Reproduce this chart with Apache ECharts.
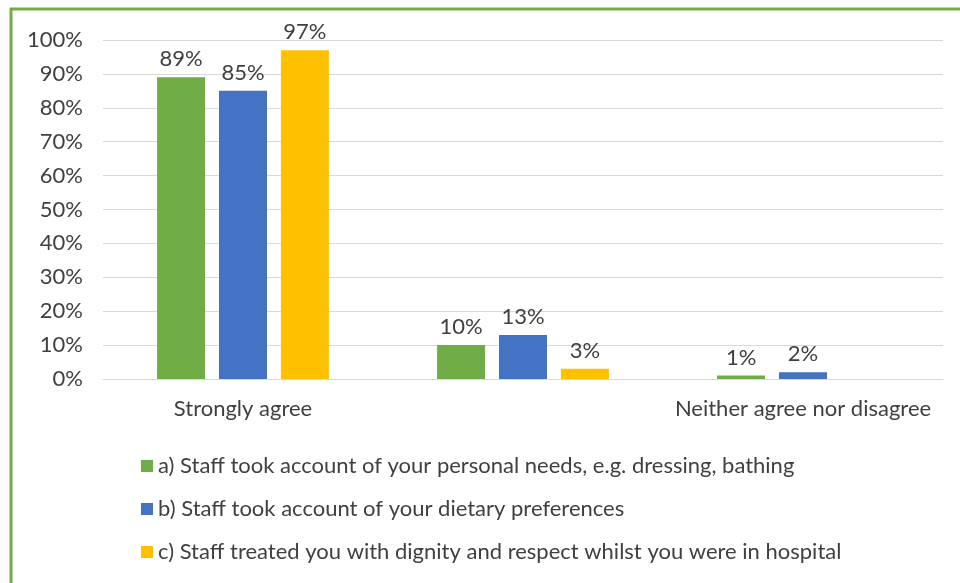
<!DOCTYPE html>
<html><head><meta charset="utf-8">
<script src="https://cdn.jsdelivr.net/npm/echarts@6/dist/echarts.min.js"></script>
<style>html,body{margin:0;padding:0;background:#fff}#c{width:960px;height:583px}</style>
</head><body><div id="c"></div>
<script>
const categories = ['Strongly agree', 'Agree', 'Neither agree nor disagree'];
const seriesNames = [
  'a) Staff took account of your personal needs, e.g. dressing, bathing',
  'b) Staff took account of your dietary preferences',
  'c) Staff treated you with dignity and respect whilst you were in hospital'
];
const valuesA = [89, 10, 1];
const valuesB = [85, 13, 2];
const valuesC = [97, 3, null];
const colors = ['#70AD47', '#4472C4', '#FFC000'];
const FONT = 'Lato';
const FS = 22;

const chart = echarts.init(document.getElementById('c'));
const mk = (name, data, color) => ({
  name, type: 'bar', data,
  barWidth: 48, barGap: '29%',
  itemStyle: { color },
  label: { show: true, position: 'top', distance: 7, color: '#404040', fontSize: FS, fontFamily: FONT,
    formatter: p => p.value == null ? '' : Math.round(p.value) + '%' }
});
chart.setOption({
  animation: false,
  backgroundColor: '#fff',
  graphic: [{ type: 'rect', shape: { x: 11, y: 9, width: 1000, height: 700 }, style: { fill: 'none', stroke: '#70AD47', lineWidth: 3 }, silent: true }],
  grid: { left: 103, right: 17, top: 40, bottom: 204 },
  legend: {
    orient: 'vertical', left: 136, top: 450, itemGap: 21, itemWidth: 12, itemHeight: 12,
    icon: 'rect',
    textStyle: { fontSize: FS, fontFamily: FONT, color: '#404040' },
    data: seriesNames
  },
  xAxis: {
    type: 'category', data: categories,
    axisLine: { show: true, lineStyle: { color: '#d9d9d9' } },
    axisTick: { show: false },
    axisLabel: { fontSize: FS, fontFamily: FONT, color: '#404040', margin: 19 }
  },
  yAxis: {
    type: 'value', min: 0, max: 100, interval: 10,
    axisLabel: { formatter: '{value}%', fontSize: FS, fontFamily: FONT, color: '#404040', margin: 20 },
    splitLine: { lineStyle: { color: '#d9d9d9' } },
    axisLine: { show: false }, axisTick: { show: false }
  },
  series: [mk(seriesNames[0], valuesA, colors[0]), mk(seriesNames[1], valuesB, colors[1]), mk(seriesNames[2], valuesC, colors[2])]
});
</script></body></html>
